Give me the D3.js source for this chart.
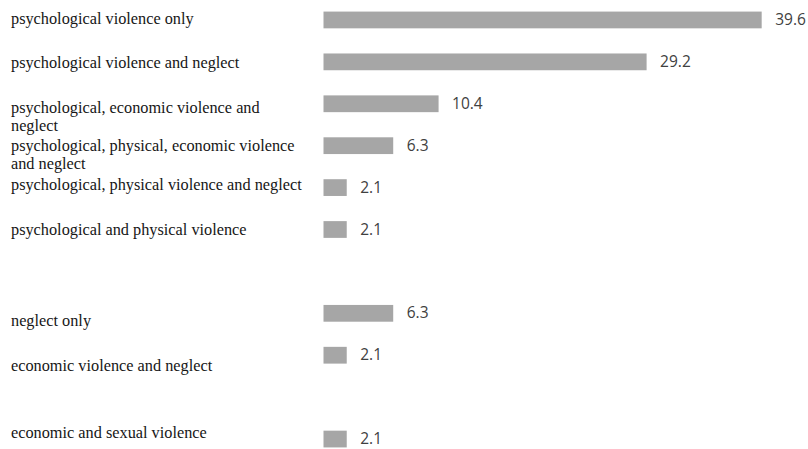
<!DOCTYPE html>
<html>
<head>
<meta charset="utf-8">
<script src="https://cdn.jsdelivr.net/npm/d3@7"></script>
<style>
  body { margin: 0; background: #fff; }
  .label { font-family: "Liberation Serif", "Times New Roman", serif; font-size: 16.3px; fill: #161616; }
  .value { font-family: "Open Sans", "Liberation Sans", sans-serif; font-size: 15.5px; fill: #404040; }
</style>
</head>
<body>
<div id="chart"></div>
<script>
// categories (empty strings are blank rows in the original)
var categories = [
  "psychological violence only",
  "psychological violence and neglect",
  "psychological, economic violence and\nneglect",
  "psychological, physical, economic violence\nand neglect",
  "psychological, physical violence and neglect",
  "psychological and physical violence",
  "",
  "neglect only",
  "economic violence and neglect",
  "",
  "economic and sexual violence"
];
var values = [39.6, 29.2, 10.4, 6.3, 2.1, 2.1, null, 6.3, 2.1, null, 2.1];
var valueLabels = ["39.6", "29.2", "10.4", "6.3", "2.1", "2.1", "", "6.3", "2.1", "", "2.1"];

// small vertical nudges of the left labels (they are not quite lined up in the source)
var labelNudge = [-1, 1, 4, 0, -3, 0, 0, 8, 11, 0, -6];

var svgWidth = 808;
var svgHeight = 449;

var margin = { top: -1, right: 42, bottom: 0, left: 323.5 };
var width = 442.6;

var svg = d3.select("#chart")
  .append("svg")
  .attr("width", svgWidth)
  .attr("height", svgHeight);

var xScale = d3.scaleLinear()
  .domain([0, 40])
  .range([margin.left, margin.left + width]);

var yScale = d3.scaleBand()
  .domain(d3.range(categories.length))
  .range([-1, 460])
  .paddingInner(0.6)
  .paddingOuter(0.3);

var rows = categories.map(function (c, i) {
  return { label: c, value: values[i], text: valueLabels[i], nudge: labelNudge[i], i: i };
});
var filled = rows.filter(function (d) { return d.value !== null; });

// bars
svg.selectAll("rect.bar")
  .data(filled)
  .enter()
  .append("rect")
  .attr("class", "bar")
  .attr("x", xScale(0))
  .attr("y", d => yScale(d.i))
  .attr("width", d => xScale(d.value) - xScale(0))
  .attr("height", yScale.bandwidth())
  .attr("fill", "#a6a6a6");

// value labels
svg.selectAll("text.value")
  .data(filled)
  .enter()
  .append("text")
  .attr("class", "value")
  .attr("x", d => xScale(d.value) + 13.5)
  .attr("y", d => yScale(d.i) + yScale.bandwidth() / 2 + 5)
  .text(d => d.text);

// category labels, first line lined up with the bar
var labels = svg.selectAll("text.label")
  .data(rows.filter(d => d.label !== ""))
  .enter()
  .append("text")
  .attr("class", "label")
  .attr("x", 11)
  .attr("y", d => yScale(d.i) + yScale.bandwidth() / 2 + 5 + d.nudge);

labels.each(function (d) {
  var t = d3.select(this);
  d.label.split("\n").forEach(function (line, k) {
    t.append("tspan")
      .attr("x", 11)
      .attr("dy", k === 0 ? 0 : 18.6)
      .text(line);
  });
});
</script>
</body>
</html>
